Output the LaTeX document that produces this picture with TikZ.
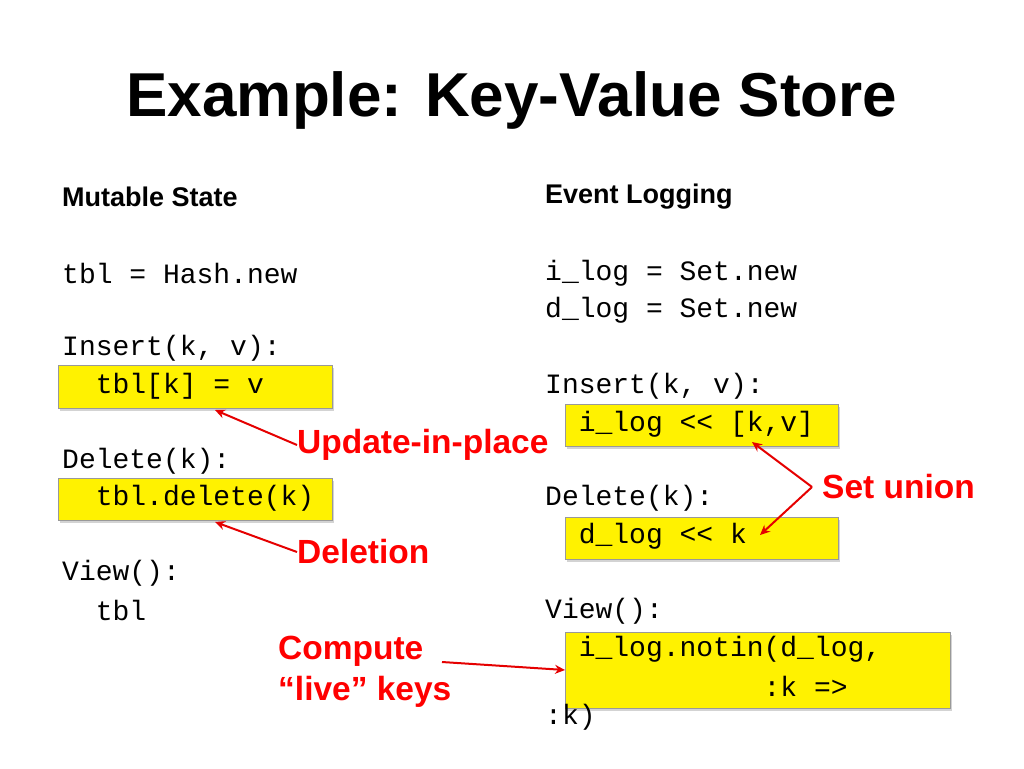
\documentclass[tikz,border=0pt]{standalone}
\usepackage{fontspec}
\setmainfont{Liberation Sans}
\setmonofont{Liberation Mono}
\usetikzlibrary{arrows.meta,shadows}
\begin{document}
\begin{tikzpicture}[x=1pt,y=-1pt,
  code/.style={anchor=west,inner sep=0,font=\fontsize{28}{30}\selectfont\ttfamily},
  hdr/.style={anchor=west,inner sep=0,font=\fontsize{27}{30}\selectfont\bfseries},
  lbl/.style={anchor=west,inner sep=0,text=red,font=\fontsize{33.5}{41}\selectfont\bfseries},
  ybox/.style={draw=black!40,fill=yellow,line width=0.8pt,drop shadow={shadow xshift=2pt,shadow yshift=-3pt,opacity=0.35}},
  rarr/.style={draw=red!90!black,line width=2pt,-{Stealth[length=10pt,width=9pt]}}]
\useasboundingbox (0,0) rectangle (1024,768);
\path[ybox] (58,365) rectangle (332,408);
\path[ybox] (58,478) rectangle (332,520);
\path[ybox] (565,404) rectangle (838,446);
\path[ybox] (565,517) rectangle (838,559);
\path[ybox] (565,632) rectangle (950,708);
\node[inner sep=0,font=\fontsize{62}{64}\selectfont\bfseries] (title) at (512,100) {Example: Key-Value Store};
\node[hdr] (h1) at (62,197) {Mutable State};
\node[hdr] (h2) at (545,197) {Event Logging};
\node[code] (l1) at (62,273) {tbl = Hash.new};
\node[code] (l2) at (62,348) {Insert(k, v):};
\node[code] (l3) at (62,386) {\ \ tbl[k] = v};
\node[code] (l4) at (62,461) {Delete(k):};
\node[code] (l5) at (62,498) {\ \ tbl.delete(k)};
\node[code] (l6) at (62,573) {View():};
\node[code] (l7) at (62,610) {\ \ tbl};
\node[code] (r1) at (545,273) {i\_log = Set.new};
\node[code] (r2) at (545,310) {d\_log = Set.new};
\node[code] (r3) at (545,386) {Insert(k, v):};
\node[code] (r4) at (545,424) {\ \ i\_log << [k,v]};
\node[code] (r5) at (545,498) {Delete(k):};
\node[code] (r6) at (545,536) {\ \ d\_log << k};
\node[code] (r7) at (545,611) {View():};
\node[code] (r8) at (545,649) {\ \ i\_log.notin(d\_log,};
\node[code] (r9) at (545,686) {\ \ \ \ \ \ \ \ \ \ \ \ \ :k =>};
\node[code] (r10) at (545,717) {:k)};
\node[lbl] (u) at (297,445) {Update-in-place};
\node[lbl] (d) at (297,552) {Deletion};
\node[lbl] (s) at (822,487) {Set union};
\node[lbl,align=left] (c) at (278,672) {Compute\\“live” keys};
\coordinate (ua) at (215,410);
\coordinate (da) at (215,522);
\coordinate (sa) at (752,442);
\coordinate (sb) at (760,535);
\coordinate (ca) at (565,670);
\draw[rarr] (u.west) -- (ua);
\draw[rarr] (d.west) -- (da);
\draw[rarr] ([xshift=-10pt]s.west) -- (sa);
\draw[rarr] ([xshift=-10pt]s.west) -- (sb);
\draw[rarr] (442,662) -- (ca);
\end{tikzpicture}
\end{document}
